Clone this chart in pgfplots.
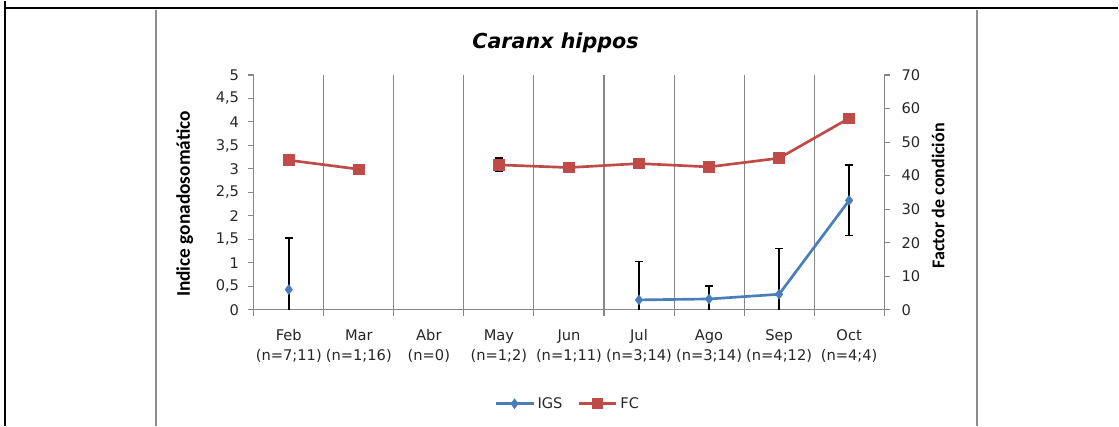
\documentclass[border=0pt]{standalone}
\usepackage{pgfplots}
\pgfplotsset{compat=1.18}
\usepackage{fontspec}
\setmainfont{DejaVu Sans}
\newfontfamily\carlito{Carlito}

\definecolor{igsblue}{HTML}{4A7EBB}
\definecolor{fcred}{HTML}{BE4B48}
\definecolor{axgray}{HTML}{868686}
\definecolor{tabgray}{HTML}{8C8C8C}

% IGS: indice gonadosomatico (eje izquierdo)
\pgfplotstableread{
x y
0 0.43
1 nan
2 nan
3 nan
4 nan
5 0.21
6 0.23
7 0.33
8 2.33
}\igs
\pgfplotstableread{
x y e
0 0.43 1.10
5 0.21 0.82
6 0.23 0.28
7 0.33 0.97
8 2.33 0.75
}\igserr
% FC: factor de condicion (eje derecho)
\pgfplotstableread{
x y
0 44.6
1 41.9
2 nan
3 43.2
4 42.4
5 43.6
6 42.6
7 45.2
8 57.1
}\fc
\pgfplotstableread{
x y e
0 44.6 1.3
3 43.2 2.0
7 45.2 1.0
}\fcerr

\pgfplotsset{
  base/.style={
    scale only axis, width=473.25pt, height=176.25pt,
    at={(190.5pt,87pt)}, anchor=south west,
    xmin=-0.5, xmax=8.5,
    axis line style={axgray, line width=0.8pt},
    tick style={axgray, line width=0.8pt},
    tick align=outside, major tick length=4.5pt,
    ticklabel style={font=\fontsize{11}{15}\selectfont, text=black!85},
    /pgf/number format/assume math mode=true,
    unbounded coords=jump,
  },
  errs/.style={only marks, mark=none, forget plot,
    error bars/.cd, y dir=both, y explicit,
    error bar style={black, line width=1.1pt},
    error mark options={black, rotate=90, mark size=3pt, line width=1.1pt}},
  igsstyle/.style={igsblue, line width=2pt, mark=diamond*, mark size=2.4pt, mark options={solid}},
  fcstyle/.style={fcred, line width=2pt, mark=square*, mark size=3.3pt, mark options={solid}},
}

\begin{document}
\begin{tikzpicture}
\begin{scope}[x=0.75pt,y=0.75pt]
\path (0,0) rectangle (1119,425);
\draw[black, line width=1.6pt] (5,0) -- (5,425);
\draw[black, line width=1.6pt] (5,418) -- (1119,418);
\draw[tabgray, line width=1.5pt] (156,416) -- (156,0);
\draw[tabgray, line width=1.5pt] (978,416) -- (978,0);
\end{scope}

\begin{axis}[base,
  axis x line*=bottom, axis y line*=left,
  ymin=0, ymax=5,
  ytick={0,0.5,1,1.5,2,2.5,3,3.5,4,4.5,5},
  yticklabel style={/pgf/number format/.cd, use comma, fixed, /tikz/.cd, xshift=-3pt},
  xtick={-0.5,0.5,...,8.5},
  x tick label as interval,
  xticklabels={{Feb\\(n=7;11)},{Mar\\(n=1;16)},{Abr\\(n=0)},{May\\(n=1;2)},{Jun\\(n=1;11)},{Jul\\(n=3;14)},{Ago\\(n=3;14)},{Sep\\(n=4;12)},{Oct\\(n=4;4)}},
  xticklabel style={align=center, yshift=-7pt},
  xmajorgrids, x grid style={axgray, line width=0.8pt},
  title={\bfseries\itshape Caranx hippos},
  every axis title shift=0pt,
  title style={at={(axis description cs:0.4786,1.136)}, anchor=center, font=\fontsize{15.5}{18}\selectfont},
  ylabel={Indice gonadosomático},
  ylabel style={at={(axis description cs:-0.1094,0.45)}, anchor=center, font=\carlito\bfseries\fontsize{14.5}{17}\selectfont},
]
\addplot[errs] table[x=x, y=y, y error=e] {\igserr};
\addplot[igsstyle] table[x=x, y=y] {\igs};
\end{axis}

\begin{axis}[base,
  hide x axis, axis y line*=right,
  ymin=0, ymax=70, ytick={0,10,...,70},
  yticklabel style={xshift=5pt},
  ylabel={Factor de condición},
  ylabel style={at={(axis description cs:1.0856,0.485)}, anchor=center, font=\carlito\bfseries\fontsize{13.5}{16}\selectfont},
  legend style={at={(axis description cs:0.4985,-0.4)}, anchor=center, draw=none, fill=none,
    font=\fontsize{11}{13}\selectfont, text=black!85,
    /tikz/every even column/.append style={column sep=9pt}},
  legend columns=2,
  legend image code/.code={\draw[mark repeat=2,mark phase=2] plot coordinates {(0pt,0pt) (14.25pt,0pt) (28.5pt,0pt)};},
]
\addlegendimage{igsstyle}
\addlegendentry{IGS}
\addplot[errs] table[x=x, y=y, y error=e] {\fcerr};
\addplot[fcstyle] table[x=x, y=y] {\fc};
\addlegendentry{FC}
\end{axis}
\end{tikzpicture}
\end{document}
